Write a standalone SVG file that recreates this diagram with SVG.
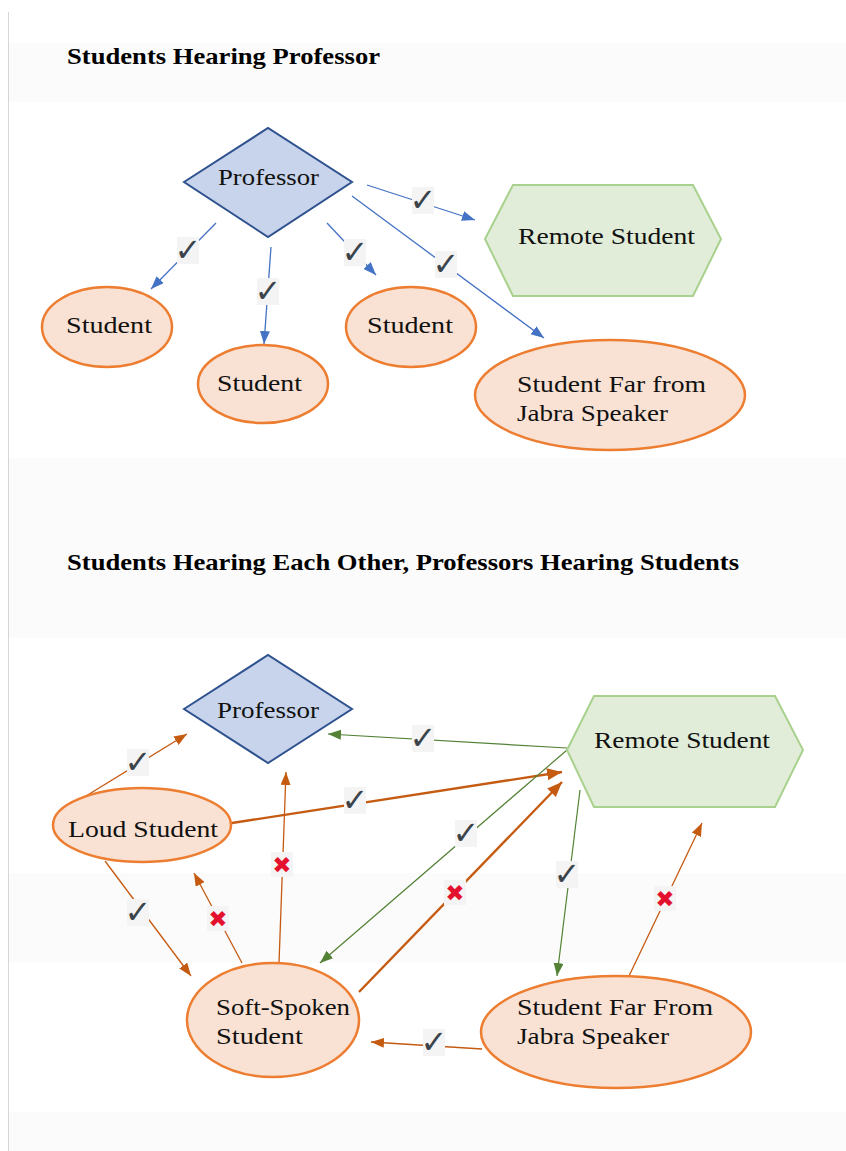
<svg xmlns="http://www.w3.org/2000/svg" width="846" height="1151" viewBox="0 0 846 1151">
<defs>
<style>
.band{fill:#fbfbfb}
.title{font-family:"Liberation Serif",serif;font-weight:bold;font-size:23px;fill:#000}
.lbl{font-family:"Liberation Serif",serif;font-size:23px;fill:#111}
.dia{fill:#c7d4eb;stroke:#2f528f;stroke-width:2}
.hex{fill:#e1edd8;stroke:#a9d18e;stroke-width:2}
.ell{fill:#f9e2d3;stroke:#ed7d31;stroke-width:2.5}
.blue{stroke:#4472c4;stroke-width:1.3;fill:none;marker-end:url(#ab)}
.or{stroke:#c55a11;stroke-width:1.3;fill:none;marker-end:url(#ao)}
.orT{stroke:#c55a11;stroke-width:2.4;fill:none;marker-end:url(#ao2)}
.gr{stroke:#538135;stroke-width:1.2;fill:none;marker-end:url(#ag)}
.mbg{fill:#f4f4f4}
.ck{font-family:"DejaVu Sans",sans-serif;font-size:32px;fill:#3b434b;text-anchor:middle}
.x{font-family:"DejaVu Sans",sans-serif;font-size:23px;fill:#e3102e;text-anchor:middle}
</style>
<marker id="ab" markerUnits="userSpaceOnUse" markerWidth="14" markerHeight="12" refX="13" refY="5" orient="auto"><path d="M0,0 L13,5 L0,10 Z" fill="#4472c4"/></marker>
<marker id="ao" markerUnits="userSpaceOnUse" markerWidth="14" markerHeight="12" refX="13" refY="5" orient="auto"><path d="M0,0 L13,5 L0,10 Z" fill="#c55a11"/></marker>
<marker id="ao2" markerUnits="userSpaceOnUse" markerWidth="16" markerHeight="14" refX="15" refY="6" orient="auto"><path d="M0,0 L15,6 L0,12 Z" fill="#c55a11"/></marker>
<marker id="ag" markerUnits="userSpaceOnUse" markerWidth="14" markerHeight="12" refX="13" refY="5" orient="auto"><path d="M0,0 L13,5 L0,10 Z" fill="#538135"/></marker>
</defs>
<rect width="846" height="1151" fill="#ffffff"/>
<g id="background">
<rect class="band" x="9" y="43" width="837" height="59"/>
<rect class="band" x="9" y="458" width="837" height="180"/>
<rect class="band" x="9" y="873" width="837" height="90"/>
<rect class="band" x="9" y="1112" width="837" height="39"/>
<line x1="8.5" y1="12" x2="8.5" y2="1151" stroke="#d6d6d6" stroke-width="1"/>
</g>
<g id="titles">
<text class="title" x="67" y="64" textLength="313" lengthAdjust="spacingAndGlyphs">Students Hearing Professor</text>
<text class="title" x="67" y="570" textLength="672" lengthAdjust="spacingAndGlyphs">Students Hearing Each Other, Professors Hearing Students</text>
</g>
<g id="connectors">
<line class="blue" x1="216" y1="223" x2="151" y2="289"/>
<line class="blue" x1="271" y1="247" x2="264" y2="344"/>
<line class="blue" x1="327" y1="223" x2="376" y2="275"/>
<line class="blue" x1="352" y1="196" x2="544" y2="338"/>
<line class="blue" x1="367" y1="185" x2="475" y2="220"/>
<line class="or" x1="86" y1="796" x2="187" y2="734"/>
<line class="orT" x1="232" y1="823" x2="562" y2="772"/>
<line class="or" x1="279" y1="963" x2="286" y2="772"/>
<line class="or" x1="242" y1="963" x2="194" y2="873"/>
<line class="or" x1="105" y1="861" x2="191" y2="976"/>
<line class="gr" x1="567" y1="748" x2="328" y2="734"/>
<line class="gr" x1="567" y1="750" x2="320" y2="963"/>
<line class="orT" x1="359" y1="992" x2="562" y2="782"/>
<line class="gr" x1="580" y1="790" x2="557" y2="976"/>
<line class="or" x1="629" y1="976" x2="702" y2="823"/>
<line class="or" x1="482" y1="1049" x2="371" y2="1042"/>
</g>
<g id="marks">
<rect class="mbg" x="177" y="237" width="22" height="27"/><text class="ck" x="188" y="261">✓</text>
<rect class="mbg" x="257" y="278" width="22" height="27"/><text class="ck" x="268" y="302">✓</text>
<rect class="mbg" x="344" y="239" width="22" height="27"/><text class="ck" x="355" y="263">✓</text>
<rect class="mbg" x="435" y="251" width="22" height="27"/><text class="ck" x="446" y="275">✓</text>
<rect class="mbg" x="412" y="187" width="22" height="27"/><text class="ck" x="423" y="211">✓</text>
<rect class="mbg" x="127" y="749" width="22" height="27"/><text class="ck" x="138" y="773">✓</text>
<rect class="mbg" x="344" y="787" width="22" height="27"/><text class="ck" x="355" y="811">✓</text>
<rect class="mbg" x="412" y="725" width="22" height="27"/><text class="ck" x="423" y="749">✓</text>
<rect class="mbg" x="455" y="820" width="22" height="27"/><text class="ck" x="466" y="844">✓</text>
<rect class="mbg" x="556" y="861" width="22" height="27"/><text class="ck" x="567" y="885">✓</text>
<rect class="mbg" x="127" y="899" width="22" height="27"/><text class="ck" x="138" y="923">✓</text>
<rect class="mbg" x="423" y="1029" width="22" height="27"/><text class="ck" x="434" y="1053">✓</text>
<rect class="mbg" x="271" y="852" width="22" height="25"/><text class="x" x="282" y="873">✖</text>
<rect class="mbg" x="207" y="906" width="22" height="25"/><text class="x" x="218" y="927">✖</text>
<rect class="mbg" x="444" y="880" width="22" height="25"/><text class="x" x="455" y="901">✖</text>
<rect class="mbg" x="654" y="886" width="22" height="25"/><text class="x" x="665" y="907">✖</text>
</g>
<g id="top-professor">
<polygon class="dia" points="184,182 268,128 352,182 268,237"/>
<text class="lbl" x="218" y="185" textLength="101" lengthAdjust="spacingAndGlyphs">Professor</text>
</g>
<g id="top-remote">
<polygon class="hex" points="485,239 513,185 693,185 721,239 693,296 513,296"/>
<text class="lbl" x="518" y="244" textLength="177" lengthAdjust="spacingAndGlyphs">Remote Student</text>
</g>
<g id="top-student1">
<ellipse class="ell" cx="107" cy="327" rx="65" ry="40"/>
<text class="lbl" x="66" y="333" textLength="86" lengthAdjust="spacingAndGlyphs">Student</text>
</g>
<g id="top-student2">
<ellipse class="ell" cx="263" cy="384" rx="65" ry="39"/>
<text class="lbl" x="217" y="391" textLength="85" lengthAdjust="spacingAndGlyphs">Student</text>
</g>
<g id="top-student3">
<ellipse class="ell" cx="411" cy="327" rx="65" ry="40"/>
<text class="lbl" x="367" y="333" textLength="86" lengthAdjust="spacingAndGlyphs">Student</text>
</g>
<g id="top-far">
<ellipse class="ell" cx="610" cy="395" rx="135" ry="55"/>
<text class="lbl" x="517" y="392" textLength="189" lengthAdjust="spacingAndGlyphs">Student Far from</text>
<text class="lbl" x="517" y="421" textLength="151" lengthAdjust="spacingAndGlyphs">Jabra Speaker</text>
</g>
<g id="bot-professor">
<polygon class="dia" points="184,709 268,655 352,709 268,763"/>
<text class="lbl" x="217" y="718" textLength="102" lengthAdjust="spacingAndGlyphs">Professor</text>
</g>
<g id="bot-remote">
<polygon class="hex" points="567,750 594,696 775,696 803,750 775,807 594,807"/>
<text class="lbl" x="594" y="748" textLength="176" lengthAdjust="spacingAndGlyphs">Remote Student</text>
</g>
<g id="bot-loud">
<ellipse class="ell" cx="142" cy="825" rx="89" ry="37"/>
<text class="lbl" x="68" y="837" textLength="150" lengthAdjust="spacingAndGlyphs">Loud Student</text>
</g>
<g id="bot-soft">
<ellipse class="ell" cx="273" cy="1020" rx="86" ry="57"/>
<text class="lbl" x="216" y="1015" textLength="134" lengthAdjust="spacingAndGlyphs">Soft-Spoken</text>
<text class="lbl" x="216" y="1044" textLength="87" lengthAdjust="spacingAndGlyphs">Student</text>
</g>
<g id="bot-far">
<ellipse class="ell" cx="616" cy="1032" rx="135" ry="56"/>
<text class="lbl" x="517" y="1015" textLength="196" lengthAdjust="spacingAndGlyphs">Student Far From</text>
<text class="lbl" x="517" y="1044" textLength="152" lengthAdjust="spacingAndGlyphs">Jabra Speaker</text>
</g>
</svg>
